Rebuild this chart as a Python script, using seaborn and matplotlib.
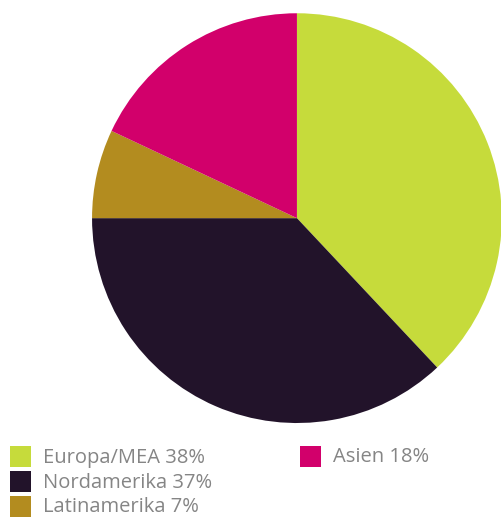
import matplotlib
matplotlib.use("Agg")
import matplotlib.pyplot as plt
from matplotlib.patches import Rectangle
import seaborn as sns

# Data
regions = ["Europa/MEA", "Nordamerika", "Latinamerika", "Asien"]
shares = [38, 37, 7, 18]
colors = ["#c6db3b", "#22132a", "#b38c1f", "#d2006b"]

sns.set_theme(style="white")
plt.rcParams['font.family'] = ['Open Sans', 'DejaVu Sans']

fig = plt.figure(figsize=(5.02, 5.2), dpi=100)
fig.patch.set_facecolor("white")

# Pie axes
ax = fig.add_axes([0.183, 0.1865, 0.817, 0.788])
ax.pie(shares, colors=colors, startangle=90, counterclock=False,
       wedgeprops=dict(linewidth=0))
ax.set_xlim(-1, 1)
ax.set_ylim(-1, 1)
ax.set_aspect("equal")
ax.axis("off")

# Legend drawn by hand: three on the left, Asien on the right
W, H = 502, 520
slots = [(10, 446), (10, 471), (10, 496), (300, 446)]
sq = 21
for (x, y), name, val, c in zip(slots, regions, shares, colors):
    fig.add_artist(Rectangle((x / W, 1 - (y + sq) / H), sq / W, sq / H,
                             transform=fig.transFigure, facecolor=c,
                             edgecolor="none"))
    fig.text((x + 33) / W, 1 - (y + sq / 2 + 1) / H, f"{name} {val}%",
             fontsize=14.5, color="#858585", va="center", ha="left")

fig.savefig("out.png", dpi=100, facecolor="white")
